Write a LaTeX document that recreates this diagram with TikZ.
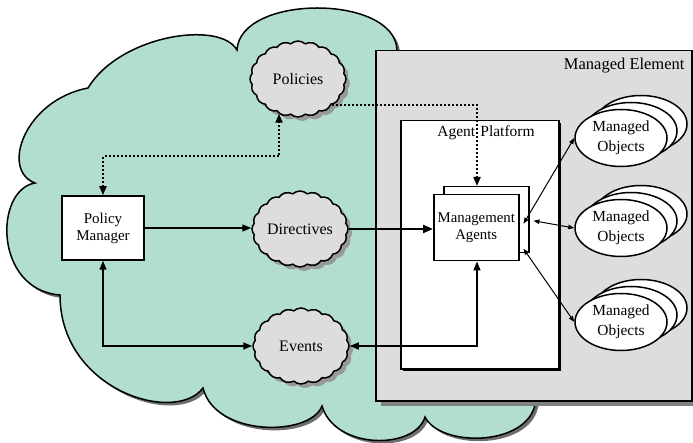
\documentclass[tikz,border=0pt]{standalone}
\usepackage{fontspec}
\setmainfont{Liberation Serif}
\usetikzlibrary{arrows.meta,shapes.symbols,shapes.geometric,shadows,calc}

\definecolor{cloudgreen}{HTML}{B2DECE}
\definecolor{panelgray}{HTML}{DDDDDD}
\definecolor{puffshade}{HTML}{999999}
\definecolor{boxshade}{HTML}{808080}
\definecolor{edgeshade}{HTML}{6E6E6E}

% outline of the large policy-domain cloud
\newcommand\outercloud{%
  (237,50) .. controls (240,-6) and (395,-6) .. (397,50)
  -- (600,200) -- (535,405)
  .. controls (525,447) and (440,447) .. (425,417)
  .. controls (415,450) and (335,450) .. (322,406)
  .. controls (310,437) and (215,437) .. (203,388)
  .. controls (175,425) and (60,390) .. (60,295)
  .. controls (-6,290) and (-6,190) .. (35,183)
  .. controls (0,170) and (25,100) .. (88,88)
  .. controls (120,35) and (220,20) .. (237,50) -- cycle}

\tikzset{
  Tbig/.tip={Triangle[length=9pt,width=7pt]},
  Tsmall/.tip={Triangle[length=6pt,width=4.5pt]},
  puff/.style={cloud, cloud puffs=20, cloud puff arc=85, cloud ignores aspect,
    draw, line width=1.5pt, fill=panelgray, inner sep=0pt,
    minimum width=96pt, minimum height=76pt,
    font=\fontsize{16}{18}\selectfont,
    drop shadow={shadow xshift=4pt, shadow yshift=-4pt, fill=puffshade, opacity=1}},
  plainbox/.style={draw, line width=1.5pt, fill=white, align=center, inner sep=0pt},
  mobj/.style={ellipse, draw, line width=1.5pt, fill=white, inner sep=0pt,
    minimum width=92pt, minimum height=57pt, align=center,
    font=\fontsize{15.4}{20}\selectfont},
  conn/.style={line width=1.4pt},
  dotline/.style={line width=2pt, dash pattern=on 2pt off 2pt},
  objlink/.style={line width=1pt, Tsmall-Tsmall},
}

\begin{document}
\begin{tikzpicture}[x=1pt,y=-1pt]
\useasboundingbox (0,0) rectangle (693,443);

% large cloud with its shadow
\fill[edgeshade, shift={(3,3)}] \outercloud;
\draw[fill=cloudgreen, line width=1.5pt] \outercloud;

% managed element panel
\node[draw, line width=1.5pt, fill=panelgray, minimum width=316pt, minimum height=350pt,
  anchor=north west, inner sep=0pt,
  drop shadow={shadow xshift=5pt, shadow yshift=-5pt, fill=boxshade, opacity=1}]
  (me) at (375,50) {};
\node[anchor=east, font=\fontsize{16.5}{18}\selectfont] (melabel) at (688,66) {Managed Element};

% agent platform
\node[draw, line width=1.5pt, fill=white, minimum width=158pt, minimum height=248pt,
  anchor=north west, inner sep=0pt,
  drop shadow={shadow xshift=2pt, shadow yshift=-2pt, fill=black, opacity=1}]
  (ap) at (400,120) {};
\node[font=\fontsize{15.5}{18}\selectfont] (aplabel) at (486,133) {Agent\,\,Platform};

% management agents (stacked)
\node[plainbox, minimum width=85pt, minimum height=66pt, anchor=north west] (mab) at (443,186) {};
\node[plainbox, minimum width=85pt, minimum height=66pt, anchor=north west,
  font=\fontsize{14.8}{17}\selectfont] (ma) at (433,194) {Management\\Agents};

% managed objects (stacks of three)
\foreach \cy/\nm in {138/mo1, 228/mo2, 322/mo3}{
  \node[mobj] (\nm c) at (641,\cy-14) {};
  \node[mobj] (\nm b) at (631,\cy-7) {};
  \node[mobj] (\nm) at (621,\cy) {Managed\\Objects};
}

% small clouds
\node[puff] (pol) at (298,79) {Policies};
\node[puff] (dir) at (300,229) {Directives};
\node[puff] (ev) at (301,346) {Events};

% policy manager
\node[plainbox, minimum width=82pt, minimum height=64pt,
  font=\fontsize{15}{17}\selectfont] (pm) at (103,228) {Policy\\Manager};

% connectors
\draw[dotline, Tbig-Tbig] (pm.north) -- ++(0,-39) -| ([xshift=-19pt, yshift=4pt]pol.south);
\draw[dotline, -Tbig] ($(pol.center)+(34,26)$) -| ($(mab.north west)+(34,0)$);
\draw[conn, -Tbig] (pm.east) -- (pm.east -| dir.west);
\draw[line width=2.2pt, -{Triangle[length=10pt,width=8pt]}] (dir.east) -- (dir.east -| ma.west);
\draw[conn, Tbig-Tbig] (pm.south) |- (ev.west);
\draw[conn, Tbig-Tbig] (ev.east) -| ($(ma.south west)+(44,0)$);
\draw[objlink] ($(ma.east)+(4,-4)$) -- (mo1.west);
\draw[objlink] ($(ma.east)+(14,-7)$) -- (mo2.west);
\draw[objlink] ($(ma.east)+(4,21)$) -- (mo3.west);
\end{tikzpicture}
\end{document}
